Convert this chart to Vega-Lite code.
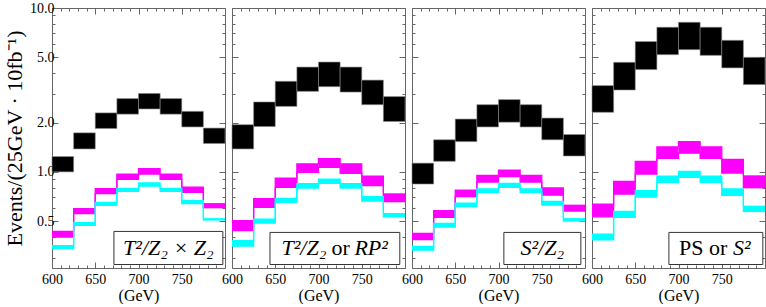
{
  "$schema": "https://vega.github.io/schema/vega-lite/v6.json",
  "padding": {"left": 3, "top": 0, "right": 0, "bottom": 0},
  "background": "white",
  "spacing": 7,
  "bounds": "flush",
  "config": {
    "font": "Liberation Serif",
    "view": {"stroke": "#666666", "strokeWidth": 1},
    "axis": {"domain": false, "grid": false, "tickColor": "#666666", "tickWidth": 1, "labelFont": "Liberation Serif", "labelFontSize": 14, "labelColor": "black", "titleFont": "Liberation Serif", "titleFontWeight": "normal", "titleColor": "black", "labelOverlap": false, "labelFlush": false, "labelBound": false},
    "text": {"font": "Liberation Serif", "fontSize": 22, "color": "black", "baseline": "middle"}
  },
  "datasets": {
    "bands": [
      {"panel":"p1","series":"black","start":600,"end":625,"lo":1.00,"hi":1.24},
      {"panel":"p1","series":"black","start":625,"end":650,"lo":1.38,"hi":1.73},
      {"panel":"p1","series":"black","start":650,"end":675,"lo":1.84,"hi":2.29},
      {"panel":"p1","series":"black","start":675,"end":700,"lo":2.25,"hi":2.80},
      {"panel":"p1","series":"black","start":700,"end":725,"lo":2.42,"hi":3.01},
      {"panel":"p1","series":"black","start":725,"end":750,"lo":2.25,"hi":2.80},
      {"panel":"p1","series":"black","start":750,"end":775,"lo":1.88,"hi":2.34},
      {"panel":"p1","series":"black","start":775,"end":800,"lo":1.49,"hi":1.85},
      {"panel":"p1","series":"magenta","start":600,"end":625,"lo":0.400,"hi":0.433},
      {"panel":"p1","series":"magenta","start":625,"end":650,"lo":0.556,"hi":0.596},
      {"panel":"p1","series":"magenta","start":650,"end":675,"lo":0.736,"hi":0.790},
      {"panel":"p1","series":"magenta","start":675,"end":700,"lo":0.900,"hi":0.970},
      {"panel":"p1","series":"magenta","start":700,"end":725,"lo":0.970,"hi":1.047},
      {"panel":"p1","series":"magenta","start":725,"end":750,"lo":0.900,"hi":0.970},
      {"panel":"p1","series":"magenta","start":750,"end":775,"lo":0.750,"hi":0.808},
      {"panel":"p1","series":"magenta","start":775,"end":800,"lo":0.599,"hi":0.645},
      {"panel":"p1","series":"cyan","start":600,"end":625,"lo":0.340,"hi":0.354},
      {"panel":"p1","series":"cyan","start":625,"end":650,"lo":0.471,"hi":0.490},
      {"panel":"p1","series":"cyan","start":650,"end":675,"lo":0.624,"hi":0.652},
      {"panel":"p1","series":"cyan","start":675,"end":700,"lo":0.761,"hi":0.793},
      {"panel":"p1","series":"cyan","start":700,"end":725,"lo":0.819,"hi":0.855},
      {"panel":"p1","series":"cyan","start":725,"end":750,"lo":0.761,"hi":0.793},
      {"panel":"p1","series":"cyan","start":750,"end":775,"lo":0.640,"hi":0.667},
      {"panel":"p1","series":"cyan","start":775,"end":800,"lo":0.504,"hi":0.522},
      {"panel":"p2","series":"black","start":600,"end":625,"lo":1.38,"hi":1.94},
      {"panel":"p2","series":"black","start":625,"end":650,"lo":1.89,"hi":2.67},
      {"panel":"p2","series":"black","start":650,"end":675,"lo":2.51,"hi":3.57},
      {"panel":"p2","series":"black","start":675,"end":700,"lo":3.10,"hi":4.36},
      {"panel":"p2","series":"black","start":700,"end":725,"lo":3.31,"hi":4.68},
      {"panel":"p2","series":"black","start":725,"end":750,"lo":3.07,"hi":4.36},
      {"panel":"p2","series":"black","start":750,"end":775,"lo":2.57,"hi":3.63},
      {"panel":"p2","series":"black","start":775,"end":800,"lo":2.03,"hi":2.88},
      {"panel":"p2","series":"magenta","start":600,"end":625,"lo":0.4375,"hi":0.504},
      {"panel":"p2","series":"magenta","start":625,"end":650,"lo":0.607,"hi":0.686},
      {"panel":"p2","series":"magenta","start":650,"end":675,"lo":0.804,"hi":0.917},
      {"panel":"p2","series":"magenta","start":675,"end":700,"lo":0.993,"hi":1.12},
      {"panel":"p2","series":"magenta","start":700,"end":725,"lo":1.065,"hi":1.205},
      {"panel":"p2","series":"magenta","start":725,"end":750,"lo":0.98,"hi":1.12},
      {"panel":"p2","series":"magenta","start":750,"end":775,"lo":0.824,"hi":0.94},
      {"panel":"p2","series":"magenta","start":775,"end":800,"lo":0.652,"hi":0.74},
      {"panel":"p2","series":"cyan","start":600,"end":625,"lo":0.352,"hi":0.380},
      {"panel":"p2","series":"cyan","start":625,"end":650,"lo":0.487,"hi":0.515},
      {"panel":"p2","series":"cyan","start":650,"end":675,"lo":0.652,"hi":0.689},
      {"panel":"p2","series":"cyan","start":675,"end":700,"lo":0.797,"hi":0.848},
      {"panel":"p2","series":"cyan","start":700,"end":725,"lo":0.851,"hi":0.904},
      {"panel":"p2","series":"cyan","start":725,"end":750,"lo":0.797,"hi":0.848},
      {"panel":"p2","series":"cyan","start":750,"end":775,"lo":0.664,"hi":0.706},
      {"panel":"p2","series":"cyan","start":775,"end":800,"lo":0.527,"hi":0.561},
      {"panel":"p3","series":"black","start":600,"end":625,"lo":0.843,"hi":1.13},
      {"panel":"p3","series":"black","start":625,"end":650,"lo":1.16,"hi":1.57},
      {"panel":"p3","series":"black","start":650,"end":675,"lo":1.53,"hi":2.10},
      {"panel":"p3","series":"black","start":675,"end":700,"lo":1.88,"hi":2.57},
      {"panel":"p3","series":"black","start":700,"end":725,"lo":2.01,"hi":2.76},
      {"panel":"p3","series":"black","start":725,"end":750,"lo":1.88,"hi":2.57},
      {"panel":"p3","series":"black","start":750,"end":775,"lo":1.57,"hi":2.13},
      {"panel":"p3","series":"black","start":775,"end":800,"lo":1.25,"hi":1.69},
      {"panel":"p3","series":"magenta","start":600,"end":625,"lo":0.386,"hi":0.421},
      {"panel":"p3","series":"magenta","start":625,"end":650,"lo":0.527,"hi":0.580},
      {"panel":"p3","series":"magenta","start":650,"end":675,"lo":0.706,"hi":0.774},
      {"panel":"p3","series":"magenta","start":675,"end":700,"lo":0.867,"hi":0.953},
      {"panel":"p3","series":"magenta","start":700,"end":725,"lo":0.935,"hi":1.026},
      {"panel":"p3","series":"magenta","start":725,"end":750,"lo":0.867,"hi":0.953},
      {"panel":"p3","series":"magenta","start":750,"end":775,"lo":0.721,"hi":0.797},
      {"panel":"p3","series":"magenta","start":775,"end":800,"lo":0.571,"hi":0.631},
      {"panel":"p3","series":"cyan","start":600,"end":625,"lo":0.333,"hi":0.351},
      {"panel":"p3","series":"cyan","start":625,"end":650,"lo":0.460,"hi":0.485},
      {"panel":"p3","series":"cyan","start":650,"end":675,"lo":0.613,"hi":0.645},
      {"panel":"p3","series":"cyan","start":675,"end":700,"lo":0.750,"hi":0.786},
      {"panel":"p3","series":"cyan","start":700,"end":725,"lo":0.804,"hi":0.851},
      {"panel":"p3","series":"cyan","start":725,"end":750,"lo":0.750,"hi":0.786},
      {"panel":"p3","series":"cyan","start":750,"end":775,"lo":0.627,"hi":0.661},
      {"panel":"p3","series":"cyan","start":775,"end":800,"lo":0.497,"hi":0.522},
      {"panel":"p4","series":"black","start":600,"end":625,"lo":2.31,"hi":3.36},
      {"panel":"p4","series":"black","start":625,"end":650,"lo":3.16,"hi":4.66},
      {"panel":"p4","series":"black","start":650,"end":675,"lo":4.21,"hi":6.24},
      {"panel":"p4","series":"black","start":675,"end":700,"lo":5.19,"hi":7.63},
      {"panel":"p4","series":"black","start":700,"end":725,"lo":5.57,"hi":8.18},
      {"panel":"p4","series":"black","start":725,"end":750,"lo":5.14,"hi":7.63},
      {"panel":"p4","series":"black","start":750,"end":775,"lo":4.31,"hi":6.35},
      {"panel":"p4","series":"black","start":775,"end":800,"lo":3.41,"hi":5.00},
      {"panel":"p4","series":"magenta","start":600,"end":625,"lo":0.532,"hi":0.636},
      {"panel":"p4","series":"magenta","start":625,"end":650,"lo":0.732,"hi":0.875},
      {"panel":"p4","series":"magenta","start":650,"end":675,"lo":0.970,"hi":1.160},
      {"panel":"p4","series":"magenta","start":675,"end":700,"lo":1.21,"hi":1.42},
      {"panel":"p4","series":"magenta","start":700,"end":725,"lo":1.30,"hi":1.53},
      {"panel":"p4","series":"magenta","start":725,"end":750,"lo":1.21,"hi":1.42},
      {"panel":"p4","series":"magenta","start":750,"end":775,"lo":0.984,"hi":1.19},
      {"panel":"p4","series":"magenta","start":775,"end":800,"lo":0.793,"hi":0.953},
      {"panel":"p4","series":"cyan","start":600,"end":625,"lo":0.384,"hi":0.417},
      {"panel":"p4","series":"cyan","start":625,"end":650,"lo":0.527,"hi":0.574},
      {"panel":"p4","series":"cyan","start":650,"end":675,"lo":0.702,"hi":0.767},
      {"panel":"p4","series":"cyan","start":675,"end":700,"lo":0.863,"hi":0.940},
      {"panel":"p4","series":"cyan","start":700,"end":725,"lo":0.925,"hi":1.007},
      {"panel":"p4","series":"cyan","start":725,"end":750,"lo":0.863,"hi":0.940},
      {"panel":"p4","series":"cyan","start":750,"end":775,"lo":0.718,"hi":0.786},
      {"panel":"p4","series":"cyan","start":775,"end":800,"lo":0.568,"hi":0.622}
    ],
    "labels": [
      {"panel":"p1","part":"a","label":"T²/Z₂ × Z₂"},
      {"panel":"p2","part":"a","label":"T²/Z₂"},
      {"panel":"p2","part":"b","label":"or"},
      {"panel":"p2","part":"c","label":"RP²"},
      {"panel":"p3","part":"a","label":"S²/Z₂"},
      {"panel":"p4","part":"a","label":"PS or"},
      {"panel":"p4","part":"b","label":"S²"}
    ]
  },
  "hconcat": [
    {
      "width": 173, "height": 260,
      "data": {"name": "bands"},
      "transform": [{"filter": "datum.panel === 'p1'"}],
      "layer": [
        {"transform": [{"filter": "datum.series === 'black'"}],
         "mark": {"type": "rect", "fill": "#000000", "stroke": "#888888", "strokeWidth": 0.6},
         "encoding": {
           "x": {"field": "start", "type": "quantitative", "scale": {"domain": [600, 800], "nice": false, "zero": false},
                 "axis": {"orient": "bottom", "values": [600,610,620,630,640,650,660,670,680,690,700,710,720,730,740,750,760,770,780,790,800], "labelExpr": "datum.value % 50 === 0 && datum.value < 800 ? datum.label : ''", "tickSize": {"condition": {"test": "datum.value % 50 === 0", "value": -6}, "value": -3}, "labelPadding": 10, "title": "(GeV)", "titleFontSize": 16, "titlePadding": -2}},
           "x2": {"field": "end"},
           "y": {"field": "lo", "type": "quantitative", "scale": {"type": "log", "domain": [0.259, 10], "nice": false},
                 "axis": {"orient": "left", "values": [0.3,0.4,0.5,0.6,0.7,0.8,0.9,1,2,3,4,5,6,7,8,9,10], "labelExpr": "indexof([0.5,1,2,5,10], datum.value) >= 0 ? format(datum.value, '.1f') : ''", "tickSize": {"condition": {"test": "indexof([0.5,1,2,5,10], datum.value) >= 0", "value": -6}, "value": -3}, "labelPadding": 4, "title": "Events/(25GeV · 10fb⁻¹)", "titleFontSize": 22, "titlePadding": 3}},
           "y2": {"field": "hi"}}},
        {"transform": [{"filter": "datum.series === 'magenta'"}],
         "mark": {"type": "rect", "fill": "#ff00ff"},
         "encoding": {
           "x": {"field": "start", "type": "quantitative", "axis": {"orient": "top", "values": [600,610,620,630,640,650,660,670,680,690,700,710,720,730,740,750,760,770,780,790,800], "labels": false, "title": null, "tickSize": {"condition": {"test": "datum.value % 50 === 0", "value": -6}, "value": -3}}},
           "x2": {"field": "end"},
           "y": {"field": "lo", "type": "quantitative", "axis": {"orient": "right", "values": [0.3,0.4,0.5,0.6,0.7,0.8,0.9,1,2,3,4,5,6,7,8,9,10], "labels": false, "title": null, "tickSize": {"condition": {"test": "indexof([0.5,1,2,5,10], datum.value) >= 0", "value": -6}, "value": -3}}},
           "y2": {"field": "hi"}}},
        {"transform": [{"filter": "datum.series === 'magenta'"}],
         "mark": {"type": "line", "interpolate": "step-after", "stroke": "#ff00ff", "strokeWidth": 1.3},
         "encoding": {"x": {"field": "start", "type": "quantitative", "axis": null}, "y": {"field": "hi", "type": "quantitative", "axis": null}}},
        {"transform": [{"filter": "datum.series === 'magenta'"}],
         "mark": {"type": "line", "interpolate": "step-after", "stroke": "#ff00ff", "strokeWidth": 1.3},
         "encoding": {"x": {"field": "start", "type": "quantitative", "axis": null}, "y": {"field": "lo", "type": "quantitative", "axis": null}}},
        {"transform": [{"filter": "datum.series === 'cyan'"}],
         "mark": {"type": "rect", "fill": "#00ffff"},
         "encoding": {"x": {"field": "start", "type": "quantitative", "axis": null}, "x2": {"field": "end"}, "y": {"field": "lo", "type": "quantitative", "axis": null}, "y2": {"field": "hi"}}},
        {"transform": [{"filter": "datum.series === 'cyan'"}],
         "mark": {"type": "line", "interpolate": "step-after", "stroke": "#00ffff", "strokeWidth": 1.3},
         "encoding": {"x": {"field": "start", "type": "quantitative", "axis": null}, "y": {"field": "hi", "type": "quantitative", "axis": null}}},
        {"transform": [{"filter": "datum.series === 'cyan'"}],
         "mark": {"type": "line", "interpolate": "step-after", "stroke": "#00ffff", "strokeWidth": 1.3},
         "encoding": {"x": {"field": "start", "type": "quantitative", "axis": null}, "y": {"field": "lo", "type": "quantitative", "axis": null}}},
        {"data": {"name": "labels"}, "transform": [{"filter": "datum.panel === 'p1' && datum.part === 'a'"}],
         "mark": {"type": "rect", "fill": "white", "stroke": "#333333", "strokeWidth": 1},
         "encoding": {"x": {"datum": 671.6, "type": "quantitative", "axis": null}, "x2": {"datum": 797.5}, "y": {"datum": 0.272, "type": "quantitative", "axis": null}, "y2": {"datum": 0.433}}},
        {"data": {"name": "labels"}, "transform": [{"filter": "datum.panel === 'p1' && datum.part === 'a'"}],
         "mark": {"type": "text", "fontStyle": "italic", "align": "center"},
         "encoding": {"x": {"datum": 734.5, "type": "quantitative", "axis": null}, "y": {"datum": 0.343, "type": "quantitative", "axis": null}, "text": {"field": "label"}}}
      ],
      "resolve": {"axis": {"x": "independent", "y": "independent"}}
    },
    {
      "width": 173, "height": 260,
      "data": {"name": "bands"},
      "transform": [{"filter": "datum.panel === 'p2'"}],
      "layer": [
        {"transform": [{"filter": "datum.series === 'black'"}],
         "mark": {"type": "rect", "fill": "#000000", "stroke": "#888888", "strokeWidth": 0.6},
         "encoding": {
           "x": {"field": "start", "type": "quantitative", "scale": {"domain": [600, 800], "nice": false, "zero": false},
                 "axis": {"orient": "bottom", "values": [600,610,620,630,640,650,660,670,680,690,700,710,720,730,740,750,760,770,780,790,800], "labelExpr": "datum.value % 50 === 0 && datum.value < 800 ? datum.label : ''", "tickSize": {"condition": {"test": "datum.value % 50 === 0", "value": -6}, "value": -3}, "labelPadding": 10, "title": "(GeV)", "titleFontSize": 16, "titlePadding": -2}},
           "x2": {"field": "end"},
           "y": {"field": "lo", "type": "quantitative", "scale": {"type": "log", "domain": [0.259, 10], "nice": false},
                 "axis": {"orient": "left", "values": [0.3,0.4,0.5,0.6,0.7,0.8,0.9,1,2,3,4,5,6,7,8,9,10], "labels": false, "title": null, "tickSize": {"condition": {"test": "indexof([0.5,1,2,5,10], datum.value) >= 0", "value": -6}, "value": -3}}},
           "y2": {"field": "hi"}}},
        {"transform": [{"filter": "datum.series === 'magenta'"}],
         "mark": {"type": "rect", "fill": "#ff00ff"},
         "encoding": {
           "x": {"field": "start", "type": "quantitative", "axis": {"orient": "top", "values": [600,610,620,630,640,650,660,670,680,690,700,710,720,730,740,750,760,770,780,790,800], "labels": false, "title": null, "tickSize": {"condition": {"test": "datum.value % 50 === 0", "value": -6}, "value": -3}}},
           "x2": {"field": "end"},
           "y": {"field": "lo", "type": "quantitative", "axis": {"orient": "right", "values": [0.3,0.4,0.5,0.6,0.7,0.8,0.9,1,2,3,4,5,6,7,8,9,10], "labels": false, "title": null, "tickSize": {"condition": {"test": "indexof([0.5,1,2,5,10], datum.value) >= 0", "value": -6}, "value": -3}}},
           "y2": {"field": "hi"}}},
        {"transform": [{"filter": "datum.series === 'magenta'"}],
         "mark": {"type": "line", "interpolate": "step-after", "stroke": "#ff00ff", "strokeWidth": 1.3},
         "encoding": {"x": {"field": "start", "type": "quantitative", "axis": null}, "y": {"field": "hi", "type": "quantitative", "axis": null}}},
        {"transform": [{"filter": "datum.series === 'magenta'"}],
         "mark": {"type": "line", "interpolate": "step-after", "stroke": "#ff00ff", "strokeWidth": 1.3},
         "encoding": {"x": {"field": "start", "type": "quantitative", "axis": null}, "y": {"field": "lo", "type": "quantitative", "axis": null}}},
        {"transform": [{"filter": "datum.series === 'cyan'"}],
         "mark": {"type": "rect", "fill": "#00ffff"},
         "encoding": {"x": {"field": "start", "type": "quantitative", "axis": null}, "x2": {"field": "end"}, "y": {"field": "lo", "type": "quantitative", "axis": null}, "y2": {"field": "hi"}}},
        {"transform": [{"filter": "datum.series === 'cyan'"}],
         "mark": {"type": "line", "interpolate": "step-after", "stroke": "#00ffff", "strokeWidth": 1.3},
         "encoding": {"x": {"field": "start", "type": "quantitative", "axis": null}, "y": {"field": "hi", "type": "quantitative", "axis": null}}},
        {"transform": [{"filter": "datum.series === 'cyan'"}],
         "mark": {"type": "line", "interpolate": "step-after", "stroke": "#00ffff", "strokeWidth": 1.3},
         "encoding": {"x": {"field": "start", "type": "quantitative", "axis": null}, "y": {"field": "lo", "type": "quantitative", "axis": null}}},
        {"data": {"name": "labels"}, "transform": [{"filter": "datum.panel === 'p2' && datum.part === 'a'"}],
         "mark": {"type": "rect", "fill": "white", "stroke": "#333333", "strokeWidth": 1},
         "encoding": {"x": {"datum": 643.9, "type": "quantitative", "axis": null}, "x2": {"datum": 794}, "y": {"datum": 0.272, "type": "quantitative", "axis": null}, "y2": {"datum": 0.427}}},
        {"data": {"name": "labels"}, "transform": [{"filter": "datum.panel === 'p2' && datum.part === 'a'"}],
         "mark": {"type": "text", "fontStyle": "italic", "align": "right"},
         "encoding": {"x": {"datum": 709, "type": "quantitative", "axis": null}, "y": {"datum": 0.341, "type": "quantitative", "axis": null}, "text": {"field": "label"}}},
        {"data": {"name": "labels"}, "transform": [{"filter": "datum.panel === 'p2' && datum.part === 'b'"}],
         "mark": {"type": "text", "fontStyle": "normal", "align": "center"},
         "encoding": {"x": {"datum": 725.5, "type": "quantitative", "axis": null}, "y": {"datum": 0.341, "type": "quantitative", "axis": null}, "text": {"field": "label"}}},
        {"data": {"name": "labels"}, "transform": [{"filter": "datum.panel === 'p2' && datum.part === 'c'"}],
         "mark": {"type": "text", "fontStyle": "italic", "align": "left"},
         "encoding": {"x": {"datum": 741.5, "type": "quantitative", "axis": null}, "y": {"datum": 0.341, "type": "quantitative", "axis": null}, "text": {"field": "label"}}}
      ],
      "resolve": {"axis": {"x": "independent", "y": "independent"}}
    },
    {
      "width": 173, "height": 260,
      "data": {"name": "bands"},
      "transform": [{"filter": "datum.panel === 'p3'"}],
      "layer": [
        {"transform": [{"filter": "datum.series === 'black'"}],
         "mark": {"type": "rect", "fill": "#000000", "stroke": "#888888", "strokeWidth": 0.6},
         "encoding": {
           "x": {"field": "start", "type": "quantitative", "scale": {"domain": [600, 800], "nice": false, "zero": false},
                 "axis": {"orient": "bottom", "values": [600,610,620,630,640,650,660,670,680,690,700,710,720,730,740,750,760,770,780,790,800], "labelExpr": "datum.value % 50 === 0 && datum.value < 800 ? datum.label : ''", "tickSize": {"condition": {"test": "datum.value % 50 === 0", "value": -6}, "value": -3}, "labelPadding": 10, "title": "(GeV)", "titleFontSize": 16, "titlePadding": -2}},
           "x2": {"field": "end"},
           "y": {"field": "lo", "type": "quantitative", "scale": {"type": "log", "domain": [0.259, 10], "nice": false},
                 "axis": {"orient": "left", "values": [0.3,0.4,0.5,0.6,0.7,0.8,0.9,1,2,3,4,5,6,7,8,9,10], "labels": false, "title": null, "tickSize": {"condition": {"test": "indexof([0.5,1,2,5,10], datum.value) >= 0", "value": -6}, "value": -3}}},
           "y2": {"field": "hi"}}},
        {"transform": [{"filter": "datum.series === 'magenta'"}],
         "mark": {"type": "rect", "fill": "#ff00ff"},
         "encoding": {
           "x": {"field": "start", "type": "quantitative", "axis": {"orient": "top", "values": [600,610,620,630,640,650,660,670,680,690,700,710,720,730,740,750,760,770,780,790,800], "labels": false, "title": null, "tickSize": {"condition": {"test": "datum.value % 50 === 0", "value": -6}, "value": -3}}},
           "x2": {"field": "end"},
           "y": {"field": "lo", "type": "quantitative", "axis": {"orient": "right", "values": [0.3,0.4,0.5,0.6,0.7,0.8,0.9,1,2,3,4,5,6,7,8,9,10], "labels": false, "title": null, "tickSize": {"condition": {"test": "indexof([0.5,1,2,5,10], datum.value) >= 0", "value": -6}, "value": -3}}},
           "y2": {"field": "hi"}}},
        {"transform": [{"filter": "datum.series === 'magenta'"}],
         "mark": {"type": "line", "interpolate": "step-after", "stroke": "#ff00ff", "strokeWidth": 1.3},
         "encoding": {"x": {"field": "start", "type": "quantitative", "axis": null}, "y": {"field": "hi", "type": "quantitative", "axis": null}}},
        {"transform": [{"filter": "datum.series === 'magenta'"}],
         "mark": {"type": "line", "interpolate": "step-after", "stroke": "#ff00ff", "strokeWidth": 1.3},
         "encoding": {"x": {"field": "start", "type": "quantitative", "axis": null}, "y": {"field": "lo", "type": "quantitative", "axis": null}}},
        {"transform": [{"filter": "datum.series === 'cyan'"}],
         "mark": {"type": "rect", "fill": "#00ffff"},
         "encoding": {"x": {"field": "start", "type": "quantitative", "axis": null}, "x2": {"field": "end"}, "y": {"field": "lo", "type": "quantitative", "axis": null}, "y2": {"field": "hi"}}},
        {"transform": [{"filter": "datum.series === 'cyan'"}],
         "mark": {"type": "line", "interpolate": "step-after", "stroke": "#00ffff", "strokeWidth": 1.3},
         "encoding": {"x": {"field": "start", "type": "quantitative", "axis": null}, "y": {"field": "hi", "type": "quantitative", "axis": null}}},
        {"transform": [{"filter": "datum.series === 'cyan'"}],
         "mark": {"type": "line", "interpolate": "step-after", "stroke": "#00ffff", "strokeWidth": 1.3},
         "encoding": {"x": {"field": "start", "type": "quantitative", "axis": null}, "y": {"field": "lo", "type": "quantitative", "axis": null}}},
        {"data": {"name": "labels"}, "transform": [{"filter": "datum.panel === 'p3' && datum.part === 'a'"}],
         "mark": {"type": "rect", "fill": "white", "stroke": "#333333", "strokeWidth": 1},
         "encoding": {"x": {"datum": 706.2, "type": "quantitative", "axis": null}, "x2": {"datum": 795.2}, "y": {"datum": 0.272, "type": "quantitative", "axis": null}, "y2": {"datum": 0.427}}},
        {"data": {"name": "labels"}, "transform": [{"filter": "datum.panel === 'p3' && datum.part === 'a'"}],
         "mark": {"type": "text", "fontStyle": "italic", "align": "center"},
         "encoding": {"x": {"datum": 750.7, "type": "quantitative", "axis": null}, "y": {"datum": 0.341, "type": "quantitative", "axis": null}, "text": {"field": "label"}}}
      ],
      "resolve": {"axis": {"x": "independent", "y": "independent"}}
    },
    {
      "width": 173, "height": 260,
      "data": {"name": "bands"},
      "transform": [{"filter": "datum.panel === 'p4'"}],
      "layer": [
        {"transform": [{"filter": "datum.series === 'black'"}],
         "mark": {"type": "rect", "fill": "#000000", "stroke": "#888888", "strokeWidth": 0.6},
         "encoding": {
           "x": {"field": "start", "type": "quantitative", "scale": {"domain": [600, 800], "nice": false, "zero": false},
                 "axis": {"orient": "bottom", "values": [600,610,620,630,640,650,660,670,680,690,700,710,720,730,740,750,760,770,780,790,800], "labelExpr": "datum.value % 50 === 0 && datum.value < 800 ? datum.label : ''", "tickSize": {"condition": {"test": "datum.value % 50 === 0", "value": -6}, "value": -3}, "labelPadding": 10, "title": "(GeV)", "titleFontSize": 16, "titlePadding": -2}},
           "x2": {"field": "end"},
           "y": {"field": "lo", "type": "quantitative", "scale": {"type": "log", "domain": [0.259, 10], "nice": false},
                 "axis": {"orient": "left", "values": [0.3,0.4,0.5,0.6,0.7,0.8,0.9,1,2,3,4,5,6,7,8,9,10], "labels": false, "title": null, "tickSize": {"condition": {"test": "indexof([0.5,1,2,5,10], datum.value) >= 0", "value": -6}, "value": -3}}},
           "y2": {"field": "hi"}}},
        {"transform": [{"filter": "datum.series === 'magenta'"}],
         "mark": {"type": "rect", "fill": "#ff00ff"},
         "encoding": {
           "x": {"field": "start", "type": "quantitative", "axis": {"orient": "top", "values": [600,610,620,630,640,650,660,670,680,690,700,710,720,730,740,750,760,770,780,790,800], "labels": false, "title": null, "tickSize": {"condition": {"test": "datum.value % 50 === 0", "value": -6}, "value": -3}}},
           "x2": {"field": "end"},
           "y": {"field": "lo", "type": "quantitative", "axis": {"orient": "right", "values": [0.3,0.4,0.5,0.6,0.7,0.8,0.9,1,2,3,4,5,6,7,8,9,10], "labels": false, "title": null, "tickSize": {"condition": {"test": "indexof([0.5,1,2,5,10], datum.value) >= 0", "value": -6}, "value": -3}}},
           "y2": {"field": "hi"}}},
        {"transform": [{"filter": "datum.series === 'magenta'"}],
         "mark": {"type": "line", "interpolate": "step-after", "stroke": "#ff00ff", "strokeWidth": 1.3},
         "encoding": {"x": {"field": "start", "type": "quantitative", "axis": null}, "y": {"field": "hi", "type": "quantitative", "axis": null}}},
        {"transform": [{"filter": "datum.series === 'magenta'"}],
         "mark": {"type": "line", "interpolate": "step-after", "stroke": "#ff00ff", "strokeWidth": 1.3},
         "encoding": {"x": {"field": "start", "type": "quantitative", "axis": null}, "y": {"field": "lo", "type": "quantitative", "axis": null}}},
        {"transform": [{"filter": "datum.series === 'cyan'"}],
         "mark": {"type": "rect", "fill": "#00ffff"},
         "encoding": {"x": {"field": "start", "type": "quantitative", "axis": null}, "x2": {"field": "end"}, "y": {"field": "lo", "type": "quantitative", "axis": null}, "y2": {"field": "hi"}}},
        {"transform": [{"filter": "datum.series === 'cyan'"}],
         "mark": {"type": "line", "interpolate": "step-after", "stroke": "#00ffff", "strokeWidth": 1.3},
         "encoding": {"x": {"field": "start", "type": "quantitative", "axis": null}, "y": {"field": "hi", "type": "quantitative", "axis": null}}},
        {"transform": [{"filter": "datum.series === 'cyan'"}],
         "mark": {"type": "line", "interpolate": "step-after", "stroke": "#00ffff", "strokeWidth": 1.3},
         "encoding": {"x": {"field": "start", "type": "quantitative", "axis": null}, "y": {"field": "lo", "type": "quantitative", "axis": null}}},
        {"data": {"name": "labels"}, "transform": [{"filter": "datum.panel === 'p4' && datum.part === 'a'"}],
         "mark": {"type": "rect", "fill": "white", "stroke": "#333333", "strokeWidth": 1},
         "encoding": {"x": {"datum": 688.9, "type": "quantitative", "axis": null}, "x2": {"datum": 797.5}, "y": {"datum": 0.272, "type": "quantitative", "axis": null}, "y2": {"datum": 0.427}}},
        {"data": {"name": "labels"}, "transform": [{"filter": "datum.panel === 'p4' && datum.part === 'a'"}],
         "mark": {"type": "text", "fontStyle": "normal", "align": "right"},
         "encoding": {"x": {"datum": 756.5, "type": "quantitative", "axis": null}, "y": {"datum": 0.341, "type": "quantitative", "axis": null}, "text": {"field": "label"}}},
        {"data": {"name": "labels"}, "transform": [{"filter": "datum.panel === 'p4' && datum.part === 'b'"}],
         "mark": {"type": "text", "fontStyle": "italic", "align": "left"},
         "encoding": {"x": {"datum": 763, "type": "quantitative", "axis": null}, "y": {"datum": 0.341, "type": "quantitative", "axis": null}, "text": {"field": "label"}}}
      ],
      "resolve": {"axis": {"x": "independent", "y": "independent"}}
    }
  ]
}
